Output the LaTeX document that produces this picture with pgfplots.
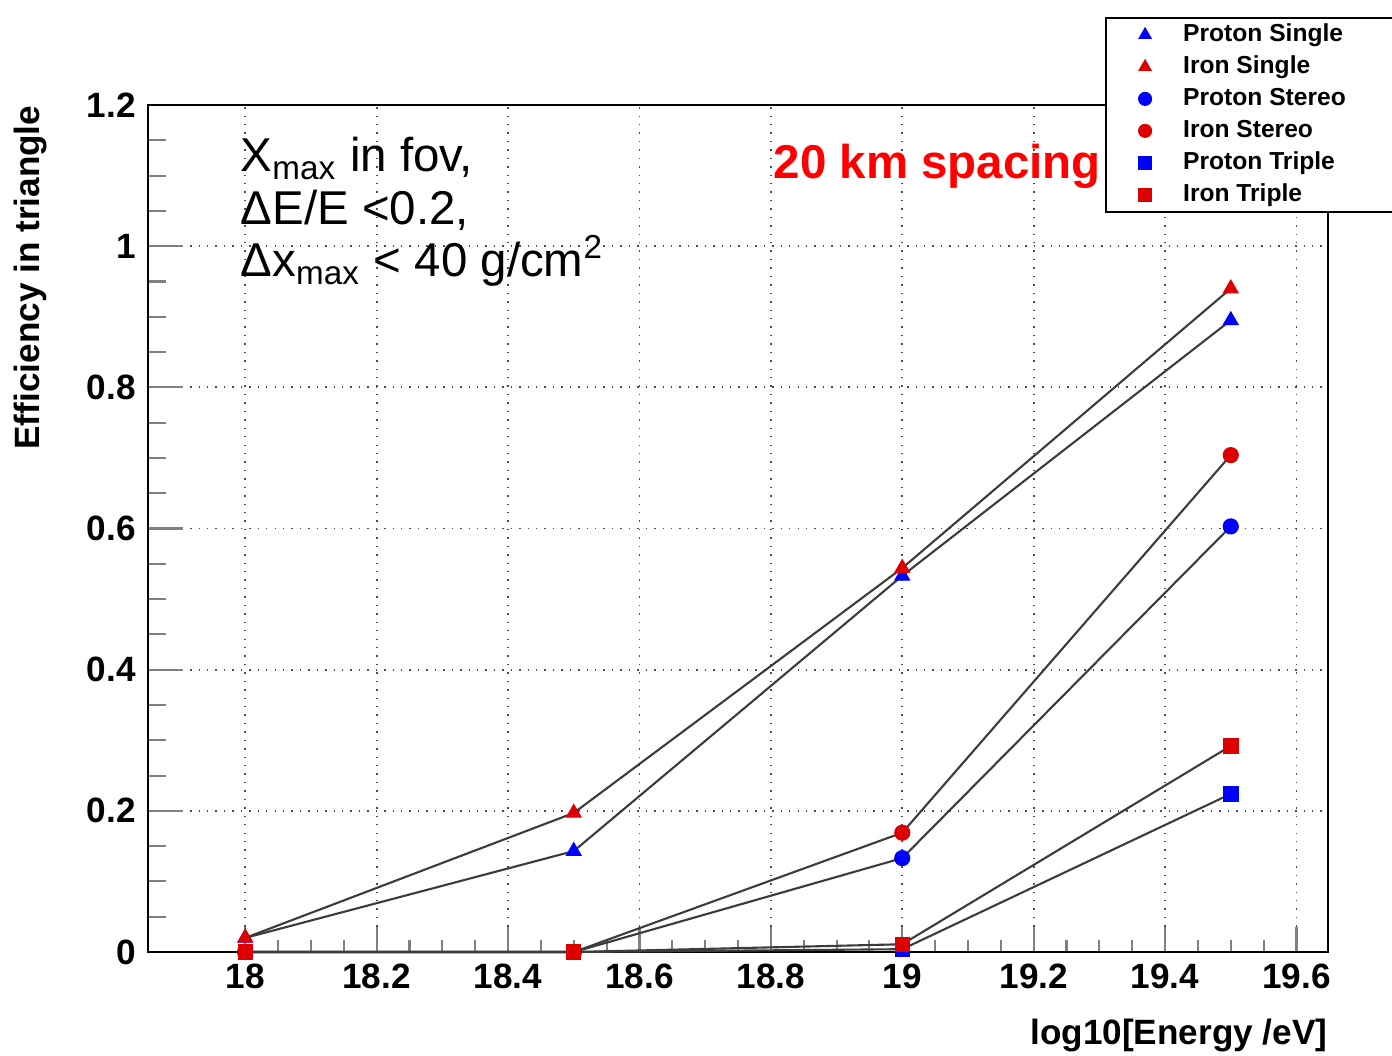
\documentclass[border=0pt]{standalone}
\usepackage{fontspec}
\setmainfont{Liberation Sans}
\usepackage{pgfplots}
\pgfplotsset{compat=1.18}
\definecolor{rootred}{RGB}{220,0,0}
\definecolor{rootblue}{RGB}{0,0,255}
\definecolor{linegray}{RGB}{60,60,60}

\begin{document}
\begin{tikzpicture}
\begin{axis}[
  at={(0,0)}, anchor=south west,
  scale only axis, width=118mm, height=84.7mm,
  xmin=17.852, xmax=19.648, ymin=0, ymax=1.2,
  xtick={18,18.2,18.4,18.6,18.8,19,19.2,19.4,19.6},
  ytick={0,0.2,0.4,0.6,0.8,1,1.2},
  minor x tick num=3, minor y tick num=3,
  xtick pos=left, ytick pos=left, tick align=inside,
  xtick style={/pgfplots/major tick length=2.5mm, /pgfplots/minor tick length=1.25mm, line width=0.6pt},
  ytick style={/pgfplots/major tick length=3.5mm, /pgfplots/minor tick length=1.77mm, line width=0.6pt},
  grid=major,
  major grid style={dotted, black!70, line width=0.5pt},
  axis line style={line width=0.6pt},
  clip=false,
  /pgf/number format/assume math mode=true,
  ticklabel style={font=\bfseries\fontsize{10}{12}\selectfont},
  xlabel={log10[Energy /eV]},
  ylabel={Efficiency in triangle},
  every axis x label/.style={at={(rel axis cs:1,0)}, anchor=north east, yshift=-6.6mm, inner sep=0pt, font=\bfseries\fontsize{10}{12}\selectfont},
  every axis y label/.style={at={(rel axis cs:0,1)}, xshift=-11.8mm, rotate=90, anchor=east, inner sep=0pt, font=\bfseries\fontsize{10}{12}\selectfont},
  legend style={at={(0.811,1.104)}, anchor=north west, draw=black, line width=0.6pt, fill=white,
    font=\bfseries\fontsize{7}{8}\selectfont, inner xsep=0.8mm, inner ysep=0.5mm,
    row sep=2.3pt, column sep=0pt,
    nodes={inner xsep=0.7mm, inner ysep=0pt, text height=5.2pt, text depth=1.6pt}},
  legend cell align=left,
  legend image code/.code={\path (0cm,0cm) (0.6cm,0cm); \draw[#1] plot coordinates {(0.3cm,0cm)};},
]
\addlegendimage{only marks, mark=triangle*, mark size=1.7pt, color=rootblue}
\addlegendentry{\makebox[20mm][l]{Proton Single}}
\addlegendimage{only marks, mark=triangle*, mark size=1.7pt, color=rootred}
\addlegendentry{Iron Single}
\addlegendimage{only marks, mark=*, mark size=1.7pt, color=rootblue}
\addlegendentry{Proton Stereo}
\addlegendimage{only marks, mark=*, mark size=1.7pt, color=rootred}
\addlegendentry{Iron Stereo}
\addlegendimage{only marks, mark=square*, mark size=1.6pt, color=rootblue}
\addlegendentry{Proton Triple}
\addlegendimage{only marks, mark=square*, mark size=1.6pt, color=rootred}
\addlegendentry{Iron Triple}

% connecting lines
\addplot[forget plot, linegray, line width=0.6pt, no marks] coordinates {(18,0.02) (18.5,0.143) (19,0.533) (19.5,0.895)};
\addplot[forget plot, linegray, line width=0.6pt, no marks] coordinates {(18,0.02) (18.5,0.197) (19,0.544) (19.5,0.940)};
\addplot[forget plot, linegray, line width=0.6pt, no marks] coordinates {(18,0) (18.5,0) (19,0.133) (19.5,0.603)};
\addplot[forget plot, linegray, line width=0.6pt, no marks] coordinates {(18,0) (18.5,0) (19,0.169) (19.5,0.704)};
\addplot[forget plot, linegray, line width=0.6pt, no marks] coordinates {(18,0) (18.5,0) (19,0.004) (19.5,0.224)};
\addplot[forget plot, linegray, line width=0.6pt, no marks] coordinates {(18,0) (18.5,0) (19,0.011) (19.5,0.292)};

% markers
\addplot[forget plot, only marks, mark=*, mark size=2.1pt, color=rootblue] coordinates {(18,0) (18.5,0) (19,0.133) (19.5,0.603)};
\addplot[forget plot, only marks, mark=*, mark size=2.1pt, color=rootred] coordinates {(18,0) (18.5,0) (19,0.169) (19.5,0.704)};
\addplot[forget plot, only marks, mark=square*, mark size=2pt, color=rootblue] coordinates {(18,0) (18.5,0) (19,0.004) (19.5,0.224)};
\addplot[forget plot, only marks, mark=square*, mark size=2pt, color=rootred] coordinates {(18,0) (18.5,0) (19,0.011) (19.5,0.292)};
\addplot[forget plot, only marks, mark=triangle*, mark size=2.3pt, color=rootblue] coordinates {(18,0.02) (18.5,0.143) (19,0.533) (19.5,0.895)};
\addplot[forget plot, only marks, mark=triangle*, mark size=2.3pt, color=rootred] coordinates {(18,0.02) (18.5,0.197) (19,0.544) (19.5,0.940)};

\node[anchor=north west, align=left, inner sep=0pt, font=\fontsize{13.5}{15}\selectfont]
  at (rel axis cs:0.078,0.963)
  {X\textsubscript{max} in fov,\\ΔE/E <0.2,\\Δx\textsubscript{max} < 40 g/cm\textsuperscript{2}};
\node[anchor=base west, inner sep=0pt, text=red, font=\bfseries\fontsize{13.5}{16}\selectfont]
  at (rel axis cs:0.5297,0.9138) {20 km spacing};
\end{axis}
\pgfresetboundingbox
\useasboundingbox (-14.8mm,-10.3mm) rectangle (124.4mm,95.2mm);
\end{tikzpicture}
\end{document}
